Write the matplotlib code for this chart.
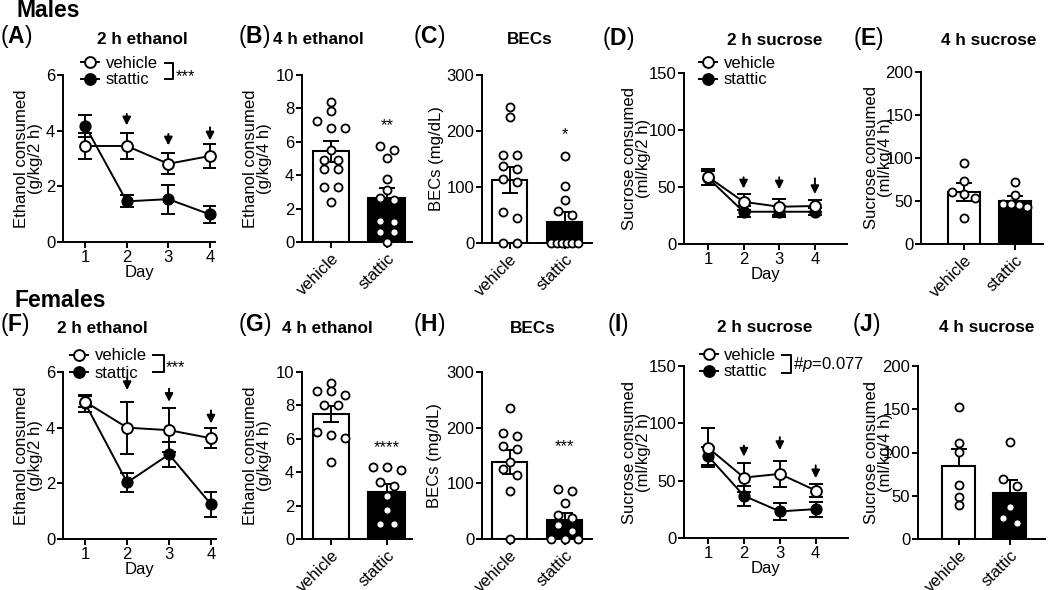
import matplotlib
matplotlib.use('Agg')
import matplotlib.pyplot as plt
from matplotlib.lines import Line2D
import numpy as np

plt.rcParams['font.family'] = ['Liberation Sans', 'DejaVu Sans']
plt.rcParams['mathtext.fontset'] = 'custom'
plt.rcParams['mathtext.rm'] = 'Liberation Sans'
plt.rcParams['mathtext.it'] = 'Liberation Sans:italic'
plt.rcParams['mathtext.bf'] = 'Liberation Sans:bold'
plt.rcParams['axes.linewidth'] = 1.4
plt.rcParams['xtick.major.width'] = 1.4
plt.rcParams['ytick.major.width'] = 1.4
plt.rcParams['xtick.major.size'] = 4
plt.rcParams['ytick.major.size'] = 4
plt.rcParams['xtick.major.pad'] = 2
plt.rcParams['ytick.major.pad'] = 1.5
plt.rcParams['font.size'] = 12

# ---------------- data ----------------
days = [1, 2, 3, 4]
groups = ['vehicle', 'stattic']

# Males
m_eth2_veh = [3.45, 3.45, 2.81, 3.09]
m_eth2_veh_sem = [0.45, 0.46, 0.37, 0.42]
m_eth2_sta = [4.18, 1.46, 1.54, 0.99]
m_eth2_sta_sem = [0.40, 0.22, 0.52, 0.32]
m_eth2_arrow_top = [4.60, 3.88, 4.12]
m_eth2_arrow_bot = [4.19, 3.47, 3.65]

m_eth4_mean = [5.42, 2.62]
m_eth4_sem = [0.60, 0.60]
m_eth4_veh_pts = [8.36, 7.86, 7.22, 6.82, 6.82, 5.52, 4.92, 4.92, 4.38, 4.38, 3.32, 3.32, 2.38]
m_eth4_sta_pts = [5.72, 5.52, 5.02, 3.76, 3.12, 2.66, 2.52, 1.26, 1.18, 0.58, 0.58, 0.0]

m_bec_mean = [112.5, 38.0]
m_bec_sem = [23.0, 18.0]
m_bec_veh_pts = [242, 225.6, 157, 157, 137.5, 131.5, 113.7, 109.5, 54.8, 44, 0, 0]
m_bec_sta_pts = [155, 102, 77, 58, 50, 0, 0, 0, 0, 0, 0]

m_suc2_veh = [59.0, 37.0, 32.7, 33.3]
m_suc2_veh_sem = [7.0, 7.0, 7.0, 5.0]
m_suc2_sta = [58.0, 28.3, 28.3, 28.3]
m_suc2_sta_sem = [6.0, 5.0, 5.0, 3.0]
m_suc2_arrow_top = [58.5, 58.5, 57.6]
m_suc2_arrow_bot = [48.7, 47.9, 43.8]

m_suc4_mean = [60.5, 50.4]
m_suc4_sem = [10.0, 5.4]
m_suc4_veh_pts = [93.8, 73.6, 58, 60, 53, 30.6]
m_suc4_sta_pts = [72.5, 57, 43.4, 45.3, 46, 46]

# Females
f_eth2_veh = [4.93, 4.00, 3.91, 3.62]
f_eth2_veh_sem = [0.20, 0.94, 0.78, 0.36]
f_eth2_sta = [4.87, 2.03, 3.04, 1.25]
f_eth2_sta_sem = [0.30, 0.33, 0.45, 0.45]
f_eth2_arrow_top = [5.80, 5.40, 4.62]
f_eth2_arrow_bot = [5.35, 4.93, 4.15]

f_eth4_mean = [7.49, 2.79]
f_eth4_sem = [0.48, 0.50]
f_eth4_veh_pts = [9.36, 8.86, 8.88, 8.62, 8.02, 8.02, 6.43, 6.03, 6.23, 4.63]
f_eth4_sta_pts = [4.13, 4.29, 4.33, 3.39, 3.19, 2.59, 1.74, 0.88, 0.88]

f_bec_mean = [139.0, 34.0]
f_bec_sem = [21.5, 12.0]
f_bec_veh_pts = [236, 185, 191, 167, 161, 139, 115, 125, 86, 0]
f_bec_sta_pts = [89, 87, 64, 43, 38, 25, 15, 0, 0, 0]

f_suc2_veh = [78.8, 52.7, 55.9, 41.4]
f_suc2_veh_sem = [16.8, 12.3, 11.0, 5.8]
f_suc2_sta = [71.5, 36.8, 23.2, 25.2]
f_suc2_sta_sem = [8.0, 8.5, 7.5, 6.5]
f_suc2_arrow_top = [80.6, 87.9, 63.3]
f_suc2_arrow_bot = [71.0, 76.7, 52.1]

f_suc4_mean = [84.4, 53.6]
f_suc4_sem = [19.3, 14.4]
f_suc4_veh_pts = [153, 111, 101, 62.4, 48, 39.3]
f_suc4_sta_pts = [112.5, 69.4, 61.3, 37.4, 23.9, 18.9]

# ---------------- layout helpers ----------------
W, H = 1050, 590
fig = plt.figure(figsize=(W / 100, H / 100), dpi=100)


def fx(x):
    return x / W


def fy(y):
    return 1 - y / H


def make_ax(x0, x1, ytop, ybot):
    ax = fig.add_axes([fx(x0), fy(ybot), (x1 - x0) / W, (ybot - ytop) / H])
    ax.spines['top'].set_visible(False)
    ax.spines['right'].set_visible(False)
    ax.tick_params(direction='out', labelsize=12)
    ax._px = (x0, x1, ytop, ybot)
    return ax


def set_ylabel_px(ax, text, right_px):
    x0, x1, _, _ = ax._px
    ax.set_ylabel(text, fontsize=12, linespacing=0.95)
    ax.yaxis.set_label_coords((right_px - x0) / (x1 - x0), 0.5)


def swarm_offsets(vals, ypx, max_span, thr=7.2, step=14.0):
    order = sorted(range(len(vals)), key=lambda i: -vals[i])
    rows = []
    for i in order:
        if rows and (vals[rows[-1][0]] - vals[i]) * ypx < thr:
            rows[-1].append(i)
        else:
            rows.append([i])
    offs = [0.0] * len(vals)
    for r in rows:
        n = len(r)
        if n > 1:
            s = min(step, max_span / (n - 1))
            for k, i in enumerate(r):
                offs[i] = (k - (n - 1) / 2) * s
    return offs


def line_panel(ax, veh, veh_sem, sta, sta_sem, ylim, yticks, xlim, arr_top, arr_bot):
    ax.set_xlim(*xlim)
    ax.set_ylim(*ylim)
    ax.set_yticks(yticks)
    ax.set_xticks(days)
    ax.errorbar(days, sta, yerr=sta_sem, fmt='none', ecolor='black',
                elinewidth=1.4, capsize=5, capthick=1.4, zorder=2)
    ax.plot(days, sta, '-o', color='black', mfc='black', mec='black', ms=7.8,
            lw=1.4, zorder=3, clip_on=False)
    ax.errorbar(days, veh, yerr=veh_sem, fmt='none', ecolor='black',
                elinewidth=1.4, capsize=5, capthick=1.4, zorder=4)
    ax.plot(days, veh, '-o', color='black', mfc='white', mec='black', ms=7.8,
            mew=1.4, lw=1.4, zorder=5, clip_on=False)
    for d, t, b in zip(days[1:], arr_top, arr_bot):
        ax.annotate('', xy=(d, b), xytext=(d, t),
                    arrowprops=dict(arrowstyle='-|>', color='black', lw=1.4,
                                    mutation_scale=12, shrinkA=0, shrinkB=0))
    ax.set_xlabel('Day', fontsize=12, labelpad=0)


def bar_panel(ax, means, sems, pts_list, ylim, yticks, xlim, bar_w, one_sided=False,
              star=None, star_y=None):
    x = np.arange(len(groups))
    ax.set_xlim(*xlim)
    ax.set_ylim(*ylim)
    ax.set_yticks(yticks)
    ax.set_xticks(x)
    ax.set_xticklabels(groups, rotation=45, ha='right', rotation_mode='anchor')
    ax.bar(x, means, width=bar_w, color=['white', 'black'], edgecolor='black',
           linewidth=1.5, zorder=2)
    lower = [0 if one_sided else s for s in sems]
    ax.errorbar(x, means, yerr=[lower, sems], fmt='none', ecolor='black',
                elinewidth=1.4, capsize=6, capthick=1.4, zorder=3)
    t = ax.transData
    ypx = t.transform((0, 1))[1] - t.transform((0, 0))[1]
    xpx = t.transform((1, 0))[0] - t.transform((0, 0))[0]
    bw_px = bar_w * xpx
    for xi, pts in zip(x, pts_list):
        offs = swarm_offsets(pts, ypx, bw_px - 9)
        ax.plot([xi + o / xpx for o in offs], pts, 'o', ms=5.8, mfc='white',
                mec='black', mew=1.3, zorder=4, clip_on=False, linestyle='none')
    if star:
        ax.text(1, star_y, star, ha='center', va='baseline', fontsize=12)


def legend_px(mx, rows_y, text_x):
    for y, fc, lab in zip(rows_y, ['white', 'black'], groups):
        fig.add_artist(Line2D([fx(mx - 9), fx(mx + 9)], [fy(y), fy(y)], color='black',
                              lw=1.4, transform=fig.transFigure))
        fig.add_artist(Line2D([fx(mx)], [fy(y)], marker='o', ms=7.8, mfc=fc,
                              mec='black', mew=1.4, transform=fig.transFigure))
        fig.text(fx(text_x), fy(y + 1), lab, ha='left', va='center', fontsize=12)


def bracket_px(x0, x1, ytop, ybot, label, lx, lbase):
    fig.add_artist(Line2D([fx(x0), fx(x1), fx(x1), fx(x0)],
                          [fy(ytop), fy(ytop), fy(ybot), fy(ybot)],
                          color='black', lw=1.4, transform=fig.transFigure))
    fig.text(fx(lx), fy(lbase), label, ha='left', va='baseline', fontsize=12)


def header(letter, lx, title, tcx, base_letter, base_title):
    fig.text(fx(lx), fy(base_letter), r'($\mathbf{%s}$)' % letter, ha='left',
             va='baseline', fontsize=16.5)
    fig.text(fx(tcx), fy(base_title), title, ha='center', va='baseline',
             fontsize=12.3, fontweight='bold')


# ---------------- Males ----------------
fig.text(fx(17), fy(17), 'Males', fontsize=16.5, fontweight='bold', ha='left', va='baseline')

axA = make_ax(63, 215, 75, 242)
line_panel(axA, m_eth2_veh, m_eth2_veh_sem, m_eth2_sta, m_eth2_sta_sem,
           (0, 6), [0, 2, 4, 6], (0.47, 4.12), m_eth2_arrow_top, m_eth2_arrow_bot)
set_ylabel_px(axA, 'Ethanol consumed\n(g/kg/2 h)', 43)
legend_px(90, [62, 79], 106)
bracket_px(165, 173, 63, 79, '***', 176, 81)

axB = make_ax(302, 412, 75, 242)
bar_panel(axB, m_eth4_mean, m_eth4_sem, [m_eth4_veh_pts, m_eth4_sta_pts],
          (0, 10), [0, 2, 4, 6, 8, 10], (-0.52, 1.45), 0.66, star='**', star_y=6.7)
set_ylabel_px(axB, 'Ethanol consumed\n(g/kg/4 h)', 272)

axC = make_ax(482, 592, 75, 243)
bar_panel(axC, m_bec_mean, m_bec_sem, [m_bec_veh_pts, m_bec_sta_pts],
          (0, 300), [0, 100, 200, 300], (-0.5, 1.5), 0.64, star='*', star_y=186)
set_ylabel_px(axC, 'BECs (mg/dL)', 444)

axD = make_ax(684, 847, 73, 244)
line_panel(axD, m_suc2_veh, m_suc2_veh_sem, m_suc2_sta, m_suc2_sta_sem,
           (0, 150), [0, 50, 100, 150], (0.33, 4.9), m_suc2_arrow_top, m_suc2_arrow_bot)
set_ylabel_px(axD, 'Sucrose consumed\n(ml/kg/2 h)', 651)
legend_px(708, [62, 79], 724)

axE = make_ax(921, 1043, 72, 244)
bar_panel(axE, m_suc4_mean, m_suc4_sem, [m_suc4_veh_pts, m_suc4_sta_pts],
          (0, 200), [0, 50, 100, 150, 200], (-0.84, 1.55), 0.63)
set_ylabel_px(axE, 'Sucrose consumed\n(ml/kg/4 h)', 893)

header('A', 0, '2 h ethanol', 142, 43, 44)
header('B', 238, '4 h ethanol', 318, 43, 44)
header('C', 413, 'BECs', 530, 43, 44)
header('D', 602, '2 h sucrose', 775, 45, 45)
header('E', 853, '4 h sucrose', 989, 45, 45)

# ---------------- Females ----------------
fig.text(fx(15), fy(307), 'Females', fontsize=16.5, fontweight='bold', ha='left', va='baseline')

axF = make_ax(63, 216, 372, 539)
line_panel(axF, f_eth2_veh, f_eth2_veh_sem, f_eth2_sta, f_eth2_sta_sem,
           (0, 6), [0, 2, 4, 6], (0.47, 4.12), f_eth2_arrow_top, f_eth2_arrow_bot)
set_ylabel_px(axF, 'Ethanol consumed\n(g/kg/2 h)', 43)
legend_px(79, [355, 372], 95)
bracket_px(153, 164, 355, 372, '***', 166, 372)

axG = make_ax(302, 412, 372, 539)
bar_panel(axG, f_eth4_mean, f_eth4_sem, [f_eth4_veh_pts, f_eth4_sta_pts],
          (0, 10), [0, 2, 4, 6, 8, 10], (-0.52, 1.45), 0.66, star='****', star_y=5.23)
set_ylabel_px(axG, 'Ethanol consumed\n(g/kg/4 h)', 272)

axH = make_ax(482, 592, 372, 539)
bar_panel(axH, f_bec_mean, f_bec_sem, [f_bec_veh_pts, f_bec_sta_pts],
          (0, 300), [0, 100, 200, 300], (-0.5, 1.5), 0.64, star='***', star_y=157)
set_ylabel_px(axH, 'BECs (mg/dL)', 442)

axI = make_ax(684, 848, 366, 538)
line_panel(axI, f_suc2_veh, f_suc2_veh_sem, f_suc2_sta, f_suc2_sta_sem,
           (0, 150), [0, 50, 100, 150], (0.33, 4.9), f_suc2_arrow_top, f_suc2_arrow_bot)
set_ylabel_px(axI, 'Sucrose consumed\n(ml/kg/2 h)', 651)
legend_px(709, [354, 371], 724)
bracket_px(782, 791, 355, 373, r'#$\mathit{p}$=0.077', 793, 369)

axJ = make_ax(918, 1045, 366, 539)
bar_panel(axJ, f_suc4_mean, f_suc4_sem, [f_suc4_veh_pts, f_suc4_sta_pts],
          (0, 200), [0, 50, 100, 150, 200], (-0.8, 1.69), 0.64, one_sided=True)
set_ylabel_px(axJ, 'Sucrose consumed\n(ml/kg/4 h)', 893)

header('F', 0, '2 h ethanol', 102, 331, 333)
header('G', 238, '4 h ethanol', 327, 331, 333)
header('H', 413, 'BECs', 533, 331, 333)
header('I', 607, '2 h sucrose', 765, 331, 332)
header('J', 852, '4 h sucrose', 987, 331, 332)

fig.savefig('out.png', dpi=100, facecolor='white')
